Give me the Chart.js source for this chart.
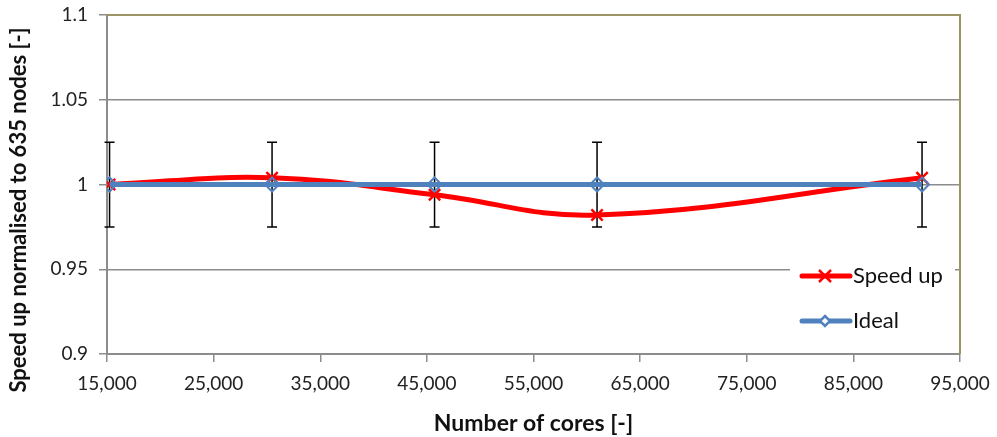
<!DOCTYPE html>
<html>
<head>
<meta charset="utf-8">
<script src="https://cdn.jsdelivr.net/npm/chart.js@4"></script>
<style>
  html, body { margin: 0; padding: 0; background: #fff; }
  #wrap { width: 997px; height: 437px; }
</style>
</head>
<body>
<div id="wrap"><canvas id="myChart" width="997" height="437"></canvas></div>
<script>
// Core counts (635 nodes x 24 cores and multiples)
const cores = [15240, 30480, 45720, 60960, 91440];
// Measured speed up, normalised to 635 nodes
const speedUp = [1.0, 1.004, 0.994, 0.982, 1.004];
// Ideal scaling line
const ideal = [1, 1, 1, 1, 1];
// Error bar half-height on the ideal line
const idealError = [0.025, 0.025, 0.025, 0.025, 0.025];

const seriesNames = ['Speed up', 'Ideal'];
const xTitle = 'Number of cores [-]';
const yTitle = 'Speed up normalised to 635 nodes [-]';

const FONT = 'Lato, "Open Sans", sans-serif';
const GRID = '#8c8c8c';
const FRAME = '#9c9462';

function toPoints(xs, ys) {
    return xs.map((x, i) => ({ x: x, y: ys[i] }));
}

// Draws the +/- error bars on the ideal series
const errorBars = {
    id: 'errorBars',
    beforeDatasetsDraw(chart) {
        const { ctx, scales: { x, y } } = chart;
        ctx.save();
        ctx.strokeStyle = '#000';
        ctx.lineWidth = 1.5;
        cores.forEach((c, i) => {
            const px = x.getPixelForValue(c);
            const top = y.getPixelForValue(ideal[i] + idealError[i]);
            const bot = y.getPixelForValue(ideal[i] - idealError[i]);
            ctx.beginPath();
            ctx.moveTo(px, top);
            ctx.lineTo(px, bot);
            ctx.moveTo(px - 5, top);
            ctx.lineTo(px + 5, top);
            ctx.moveTo(px - 5, bot);
            ctx.lineTo(px + 5, bot);
            ctx.stroke();
        });
        ctx.restore();
    }
};

// Top/right frame, legend box and rotated y title
const extras = {
    id: 'extras',
    afterDraw(chart) {
        const { ctx, chartArea: a } = chart;
        ctx.save();

        // plot frame on top and right
        ctx.strokeStyle = FRAME;
        ctx.lineWidth = 2;
        ctx.beginPath();
        ctx.moveTo(a.left, a.top);
        ctx.lineTo(a.right, a.top);
        ctx.lineTo(a.right, a.bottom);
        ctx.stroke();

        // legend
        ctx.fillStyle = '#fff';
        ctx.fillRect(790, 250, 165, 95);
        const rows = [276, 321];
        chart.data.datasets.forEach((ds, i) => {
            const yy = rows[i];
            ctx.strokeStyle = ds.borderColor;
            ctx.lineWidth = 5;
            ctx.lineCap = 'round';
            ctx.beginPath();
            ctx.moveTo(802, yy);
            ctx.lineTo(850, yy);
            ctx.stroke();
            ctx.lineCap = 'butt';
            ctx.lineWidth = 2.5;
            ctx.beginPath();
            if (ds.pointStyle === 'crossRot') {
                ctx.moveTo(819, yy - 6); ctx.lineTo(831, yy + 6);
                ctx.moveTo(831, yy - 6); ctx.lineTo(819, yy + 6);
            } else {
                ctx.fillStyle = '#fff';
                ctx.moveTo(825, yy - 5); ctx.lineTo(830, yy);
                ctx.lineTo(825, yy + 5); ctx.lineTo(820, yy);
                ctx.closePath();
                ctx.fill();
            }
            ctx.stroke();
            ctx.fillStyle = '#111';
            ctx.font = '22px ' + FONT;
            ctx.textBaseline = 'middle';
            ctx.textAlign = 'left';
            ctx.fillText(ds.label, 853, yy);
        });

        // y axis title
        ctx.translate(19, 210);
        ctx.rotate(-Math.PI / 2);
        ctx.fillStyle = '#111';
        ctx.font = 'bold 22px ' + FONT;
        ctx.textAlign = 'center';
        ctx.textBaseline = 'middle';
        ctx.fillText(yTitle, 0, 0);
        ctx.restore();
    }
};

const ctx = document.getElementById('myChart').getContext('2d');

const myChart = new Chart(ctx, {
    type: 'line',
    data: {
        datasets: [{
            label: seriesNames[0],
            data: toPoints(cores, speedUp),
            borderColor: '#ff0000',
            backgroundColor: '#ff0000',
            borderWidth: 5,
            tension: 0.4,
            pointStyle: 'crossRot',
            pointRadius: 8,
            pointBorderWidth: 2.5,
            pointBorderColor: '#ff0000',
            order: 1
        }, {
            label: seriesNames[1],
            data: toPoints(cores, ideal),
            borderColor: '#4f81bd',
            backgroundColor: 'rgba(0,0,0,0)',
            borderWidth: 5,
            tension: 0,
            pointStyle: 'rectRot',
            pointRadius: 7,
            pointBorderWidth: 2,
            pointBorderColor: '#4f81bd',
            pointBackgroundColor: 'rgba(0,0,0,0)',
            order: 0
        }]
    },
    options: {
        responsive: false,
        animation: false,
        layout: { padding: { top: 15, right: 37, left: 0, bottom: 0 } },
        plugins: {
            legend: { display: false },
            tooltip: { enabled: false }
        },
        scales: {
            x: {
                type: 'linear',
                min: 15000,
                max: 95000,
                afterFit(scale) {
                    scale.height = 83;
                    scale.paddingLeft = 0;
                    scale.paddingRight = 0;
                },
                ticks: {
                    stepSize: 10000,
                    padding: 10,
                    color: '#222',
                    font: { family: FONT, size: 19 },
                    maxRotation: 0,
                    callback: (v) => v.toLocaleString('en-US')
                },
                grid: {
                    drawOnChartArea: false,
                    drawTicks: true,
                    tickLength: 8,
                    color: GRID,
                    lineWidth: 1.5
                },
                border: { color: GRID, width: 2 },
                title: {
                    display: true,
                    text: xTitle,
                    color: '#111',
                    font: { family: FONT, size: 23, weight: 'bold' },
                    padding: { top: 3, bottom: 0 }
                }
            },
            y: {
                min: 0.9,
                max: 1.1,
                afterFit(scale) {
                    scale.width = 107;
                    scale.paddingTop = 0;
                    scale.paddingBottom = 0;
                },
                ticks: {
                    stepSize: 0.05,
                    padding: 11,
                    color: '#222',
                    font: { family: FONT, size: 19 },
                    callback: (v) => String(Number(v.toFixed(2)))
                },
                grid: {
                    drawTicks: true,
                    tickLength: 8,
                    color: GRID,
                    lineWidth: 1.5
                },
                border: { color: GRID, width: 2 }
            }
        }
    },
    plugins: [errorBars, extras]
});
</script>
</body>
</html>
